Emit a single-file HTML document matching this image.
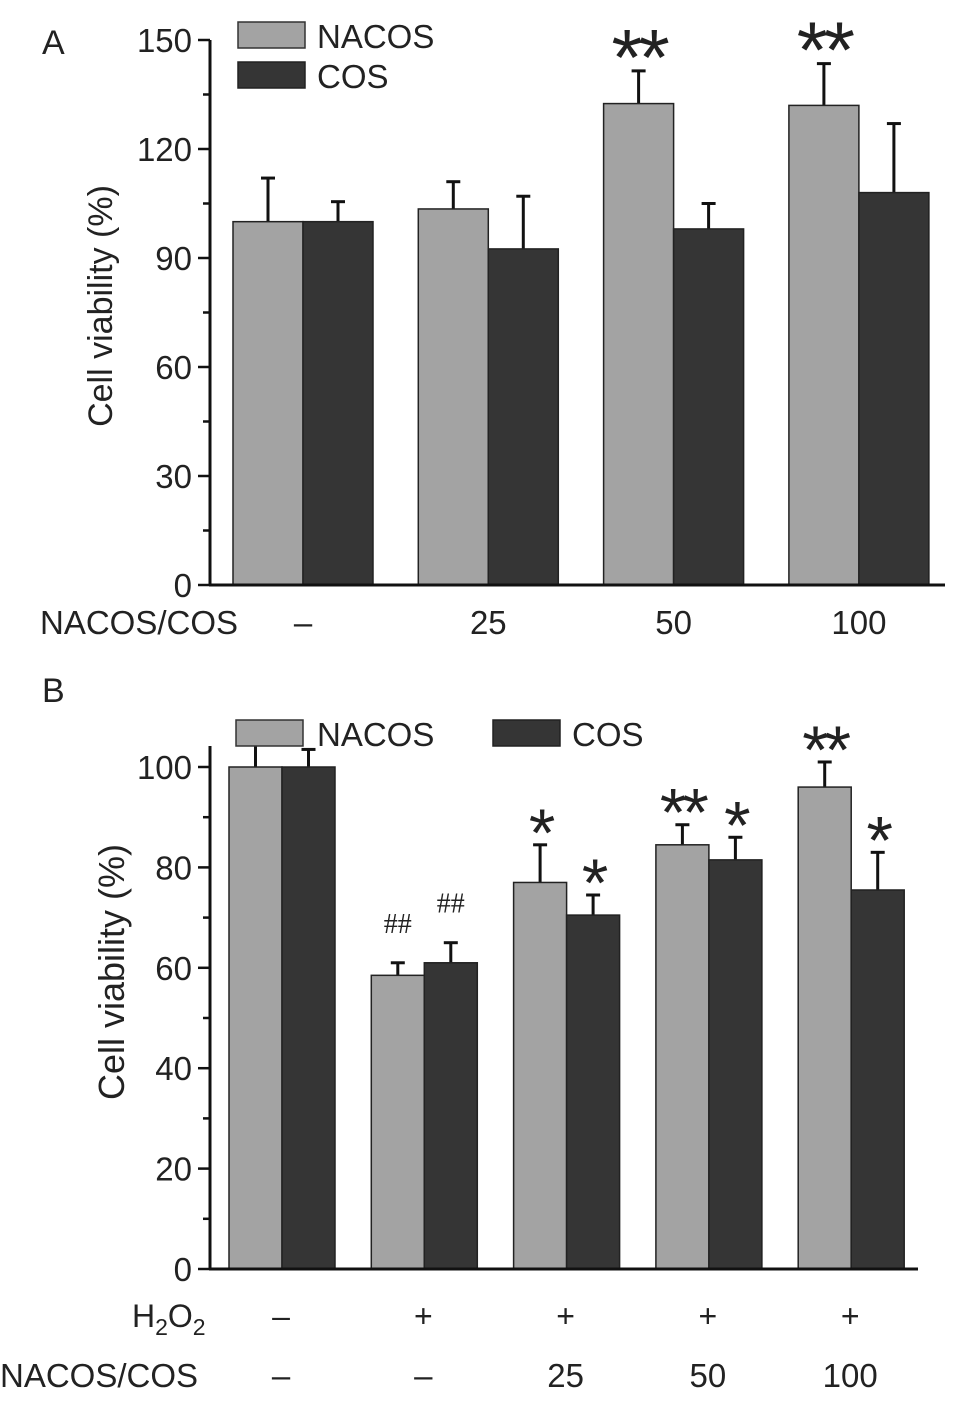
<!DOCTYPE html>
<html><head><meta charset="utf-8"><style>
body{margin:0;background:#fff}
svg text{font-family:"Liberation Sans",sans-serif;fill:#222}
</style></head><body>
<svg id="c" width="969" height="1398" viewBox="0 0 969 1398" xmlns="http://www.w3.org/2000/svg"></svg>
<script>
const catsA=["–","25","50","100"];
const nacosA=[100,103.5,132.5,132];
const nacosErrA=[12,7.5,9,11.5];
const cosA=[100,92.5,98,108];
const cosErrA=[5.5,14.5,7,19];
const sigNacosA=["","","**","**"];
const sigCosA=["","","",""];
const ticksA=[0,30,60,90,120,150];

const h2o2B=["–","+","+","+","+"];
const catsB=["–","–","25","50","100"];
const nacosB=[100,58.5,77,84.5,96];
const nacosErrB=[5,2.5,7.5,4,5];
const cosB=[100,61,70.5,81.5,75.5];
const cosErrB=[3.5,4,4,4.5,7.5];
const sigNacosB=["","##","*","**","**"];
const sigCosB=["","##","*","*","*"];
const ticksB=[0,20,40,60,80,100];

const svg=document.getElementById('c');
const NS="http://www.w3.org/2000/svg";
function mk(t,a,txt,name){const e=document.createElementNS(NS,t);for(const k in a)e.setAttribute(k,a[k]);if(txt!==undefined)e.textContent=txt;


svg.appendChild(e);return e;}

function panel(o){
  const y=v=>o.y0-(v-o.vmin)*(o.y0-o.y1)/(o.vmax-o.vmin);
  o.n.forEach((v,i)=>{
    const gx=o.gx0+i*o.gstep;
    const bw=o.bw;
    [[o.n[i],o.ne[i],gx,'#a3a3a3',o.sn[i],'nacos'],[o.c[i],o.ce[i],gx+bw,'#353535',o.sc[i],'cos']].forEach(([val,err,x,col,sig,nm])=>{
      const ey=y(val+err);
      mk('line',{x1:x+bw/2,x2:x+bw/2,y1:y(val),y2:ey,stroke:'#111','stroke-width':3},undefined,nm+'-error-bar');
      mk('line',{x1:x+bw/2-7,x2:x+bw/2+7,y1:ey,y2:ey,stroke:'#111','stroke-width':3},undefined,nm+'-error-cap');
      mk('rect',{x:x,y:y(val),width:bw,height:o.y0-y(val),fill:col,stroke:'#222','stroke-width':1.5},undefined,nm+'-bar-'+i);
      if(sig){const isH=sig[0]=='#';
        const fs=isH?28:(o.big?80:68);
        mk('text',{x:x+bw/2,y:isH?ey-30:ey+(o.big?14:11),'text-anchor':'middle','font-size':fs,'letter-spacing':isH?0:-4,style:isH?'font-family:Liberation Serif':''},sig,nm+'-significance');}
    });
  });
  mk('line',{x1:o.ax,x2:o.ax,y1:o.y1,y2:o.y0+1,stroke:'#111','stroke-width':3},undefined,'y-axis');
  mk('line',{x1:o.ax-1,x2:o.xend,y1:o.y0,y2:o.y0,stroke:'#111','stroke-width':3},undefined,'x-axis');
  o.ticks.forEach((t,i)=>{
    mk('line',{x1:o.ax-12,x2:o.ax,y1:y(t),y2:y(t),stroke:'#111','stroke-width':2.5},undefined,'y-tick');
    mk('text',{x:o.ax-18,y:y(t)+12,'text-anchor':'end','font-size':33},String(t),'y-tick-label');
    if(i<o.ticks.length-1){const m=(t+o.ticks[i+1])/2;mk('line',{x1:o.ax-7,x2:o.ax,y1:y(m),y2:y(m),stroke:'#111','stroke-width':2.5},undefined,'y-minor-tick');}
  });
  const cy=o.cy;
  mk('text',{x:0,y:0,transform:`translate(${o.tx},${cy}) rotate(-90)`,'text-anchor':'middle','font-size':o.tfs},'Cell viability (%)','y-axis-title');
}
panel({vmin:0,vmax:150,y0:585,y1:40,ax:210,xend:945,gx0:233,gstep:185.3,bw:70,n:nacosA,ne:nacosErrA,c:cosA,ce:cosErrA,sn:sigNacosA,sc:sigCosA,ticks:ticksA,big:1,tx:112,cy:306,tfs:34});
panel({vmin:0,vmax:100,y0:1269,y1:767,ax:210,xend:918,gx0:229,gstep:142.3,bw:53,n:nacosB,ne:nacosErrB,c:cosB,ce:cosErrB,sn:sigNacosB,sc:sigCosB,ticks:ticksB,tx:124,cy:972,tfs:36});
mk('line',{x1:210,x2:210,y1:746,y2:767,stroke:'#111','stroke-width':3},undefined,'y-axis-ext');

mk('text',{x:42,y:54,'font-size':34},'A','panel-a-label');
mk('text',{x:40,y:634,'font-size':33},'NACOS/COS','x-row-label');
catsA.forEach((c,i)=>mk('text',{x:303+i*185.3,y:634,'text-anchor':'middle','font-size':33},c,'x-category-label'));
mk('rect',{x:238,y:22,width:67,height:26,fill:'#a3a3a3',stroke:'#333','stroke-width':1.5},undefined,'legend-nacos-swatch');
mk('text',{x:317,y:48,'font-size':33},'NACOS','legend-nacos-label');
mk('rect',{x:238,y:62,width:67,height:26,fill:'#353535',stroke:'#222','stroke-width':1.5},undefined,'legend-cos-swatch');
mk('text',{x:317,y:88,'font-size':33},'COS','legend-cos-label');
mk('text',{x:42,y:702,'font-size':34},'B','panel-b-label');
mk('rect',{x:236,y:720,width:67,height:26,fill:'#a3a3a3',stroke:'#333','stroke-width':1.5},undefined,'legend-nacos-swatch-b');
mk('text',{x:317,y:746,'font-size':33},'NACOS','legend-nacos-label-b');
mk('rect',{x:493,y:720,width:67,height:26,fill:'#353535',stroke:'#222','stroke-width':1.5},undefined,'legend-cos-swatch-b');
mk('text',{x:572,y:746,'font-size':33},'COS','legend-cos-label-b');
const h=mk('text',{x:132,y:1327,'font-size':32},undefined,'h2o2-row-label');
h.innerHTML='H<tspan font-size="23" dy="8">2</tspan><tspan dy="-8">O</tspan><tspan font-size="23" dy="8">2</tspan>';
mk('text',{x:0,y:1387,'font-size':33},'NACOS/COS','x-row-label-b');
h2o2B.forEach((c,i)=>mk('text',{x:281+i*142.3,y:1327,'text-anchor':'middle','font-size':32},c,'h2o2-label'));
catsB.forEach((c,i)=>mk('text',{x:281+i*142.3,y:1387,'text-anchor':'middle','font-size':33},c,'x-category-label-b'));
</script>
</body></html>
